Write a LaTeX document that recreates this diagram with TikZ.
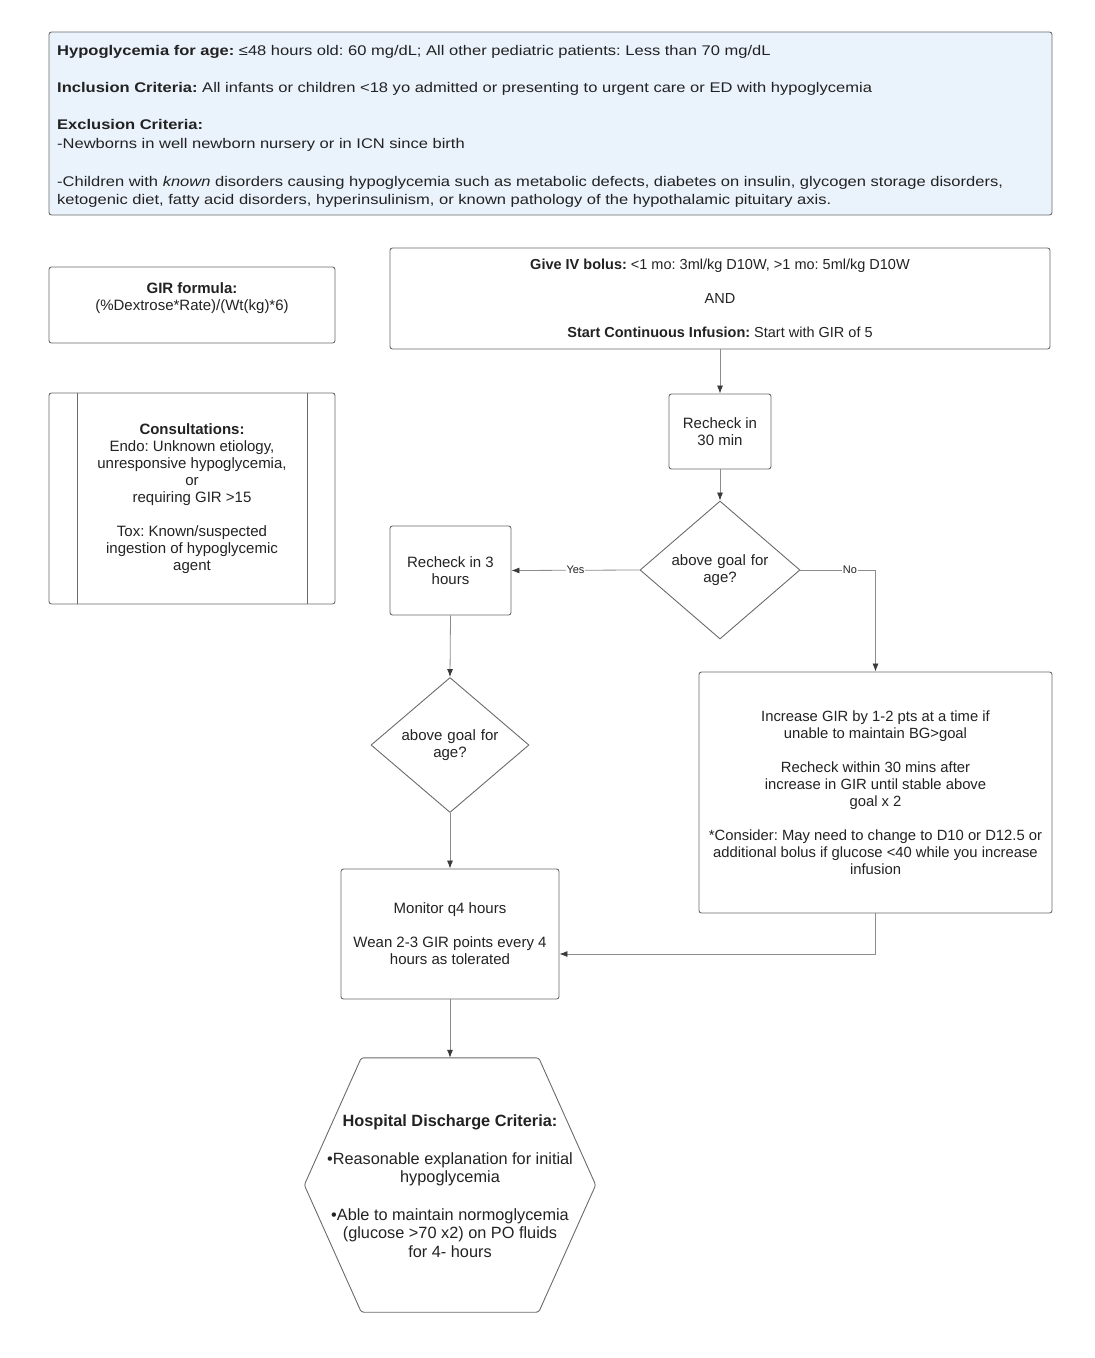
\documentclass[tikz,border=0pt]{standalone}
\usepackage{fontspec}
\setmainfont{Liberation Sans}
\newfontfamily\hdrfont[FakeStretch=1.18]{Liberation Sans}
\usetikzlibrary{shapes.geometric,arrows.meta,calc}
\definecolor{bordc}{HTML}{6A6A6A}
\definecolor{linec}{HTML}{8C8C8C}
\definecolor{tipc}{HTML}{3A3A3A}
\definecolor{hdrfill}{HTML}{EAF2FC}
\definecolor{txtc}{HTML}{222222}
\frenchspacing
\begin{document}
\frenchspacing
\begin{tikzpicture}[x=1pt,y=-1pt,
  box/.style={draw=bordc, line width=0.9pt, rounded corners=2.5pt, align=center,
    font=\fontsize{15}{17}\selectfont, text=txtc, inner sep=0pt},
  dia/.style={diamond, draw=bordc, line width=0.9pt, align=center, text width=104pt,
    inner sep=0pt, font=\fontsize{15}{17}\selectfont, text=txtc},
  hdrtxt/.style={anchor=base west, inner sep=0pt, font=\hdrfont\fontsize{14}{17}\selectfont, text=txtc},
  btxt/.style={align=center, inner sep=0pt, font=\fontsize{15}{17}\selectfont, text=txtc},
  conn/.style={draw=linec, line width=0.8pt, -{Latex[length=8pt,width=6pt,color=tipc]}},
  lbl/.style={fill=white, inner sep=1pt, font=\fontsize{11}{13}\selectfont, text=txtc}
]
\useasboundingbox (0,0) rectangle (1095,1358);

% header
\node[box, fill=hdrfill, minimum width=1003, minimum height=183] (hdr) at (550.5,123.5) {};
\node[hdrtxt] (h1) at (57,55) {\textbf{Hypoglycemia for age:} ≤48 hours old: 60 mg/dL; All other pediatric patients: Less than 70 mg/dL};
\node[hdrtxt] (h2) at (57,92) {\textbf{Inclusion Criteria:} All infants or children <18 yo admitted or presenting to urgent care or ED with hypoglycemia};
\node[hdrtxt] (h3) at (57,129) {\textbf{Exclusion Criteria:}};
\node[hdrtxt] (h4) at (57,148) {-Newborns in well newborn nursery or in ICN since birth};
\node[hdrtxt] (h5) at (57,186) {-Children with \textit{known} disorders causing hypoglycemia such as metabolic defects, diabetes on insulin, glycogen storage disorders,};
\node[hdrtxt] (h6) at (57,204) {ketogenic diet, fatty acid disorders, hyperinsulinism, or known pathology of the hypothalamic pituitary axis.};

% GIR formula
\node[box, minimum width=286, minimum height=76] (gir) at (192,305) {};
\node[btxt] (girt) at (192,298) {\textbf{GIR formula:}\\(\%Dextrose*Rate)/(Wt(kg)*6)};

% Consultations
\node[box, minimum width=286, minimum height=211] (cons) at (192,498.5)
  {\textbf{Consultations:}\\Endo: Unknown etiology,\\unresponsive hypoglycemia,\\or\\requiring GIR >15\\[17pt]Tox: Known/suspected\\ingestion of hypoglycemic\\agent};
\draw[draw=bordc, line width=0.9pt] ([xshift=29pt]cons.north west) -- ([xshift=29pt]cons.south west);
\draw[draw=bordc, line width=0.9pt] ([xshift=-28pt]cons.north east) -- ([xshift=-28pt]cons.south east);

% main flow
\node[box, minimum width=660, minimum height=101, font=\fontsize{14.5}{17}\selectfont] (bolus) at (720,298.5)
  {\textbf{Give IV bolus:} <1 mo: 3ml/kg D10W, >1 mo: 5ml/kg D10W\\[17pt]AND\\[17pt]\textbf{Start Continuous Infusion:} Start with GIR of 5};
\node[box, minimum width=102, minimum height=75] (r30) at (720,431.5) {Recheck in\\30 min};
\node[dia, minimum width=160, minimum height=138] (d1) at (720,570) {above goal for\\age?};
\node[box, minimum width=121, minimum height=89] (r3) at (450.5,570.5) {Recheck in 3\\hours};
\node[dia, minimum width=158, minimum height=128] (d2) at (450,745) {above goal for\\age?};
\node[box, minimum width=218, minimum height=130] (mon) at (450,934)
  {Monitor q4 hours\\[17pt]Wean 2-3 GIR points every 4\\hours as tolerated};
\node[box, minimum width=353, minimum height=241, font=\fontsize{14.8}{17}\selectfont] (inc) at (875.5,792.5)
  {Increase GIR by 1-2 pts at a time if\\unable to maintain BG>goal\\[17pt]Recheck within 30 mins after\\increase in GIR until stable above\\goal x 2\\[17pt]*Consider: May need to change to D10 or D12.5 or\\additional bolus if glucose <40 while you increase\\infusion};

% hexagon
\node[minimum width=291, minimum height=254, inner sep=0pt] (hex) at (450,1185) {};
\draw[draw=bordc, line width=0.9pt, rounded corners=2.5pt]
  ([xshift=57pt]hex.north west) -- ([xshift=-57pt]hex.north east) -- (hex.east)
  -- ([xshift=-57pt]hex.south east) -- ([xshift=57pt]hex.south west) -- (hex.west) -- cycle;
\node[btxt, font=\fontsize{16.3}{18.5}\selectfont] (hext) at (450,1186) {\textbf{Hospital Discharge Criteria:}\\[19pt]•Reasonable explanation for initial\\hypoglycemia\\[19pt]•Able to maintain normoglycemia\\(glucose >70 x2) on PO fluids\\for 4- hours};

% connectors
\draw[conn] (bolus.south) -- (r30.north);
\draw[conn] (r30.south) -- (d1.north);
\draw[conn] (d1.west) -- node[lbl, pos=0.5] {Yes} (r3.east);
\draw[conn] (d1.east) -| node[lbl, pos=0.33] {No} (inc.north);
\draw[conn] (r3.south) -- (d2.north);
\draw[conn] (d2.south) -- (mon.north);
\coordinate (j1) at (875.5,954);
\draw[conn] (inc.south) -- (j1) -- (mon.east |- j1);
\draw[conn] (mon.south) -- (hex.north);
\end{tikzpicture}
\end{document}
